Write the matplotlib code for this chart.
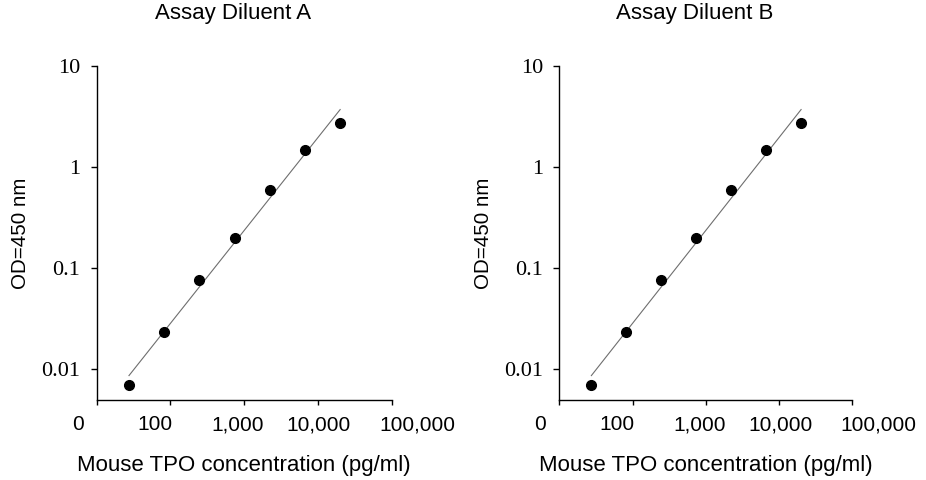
import numpy as np
import matplotlib
matplotlib.use("Agg")
import matplotlib.pyplot as plt
from matplotlib import transforms

# === Data ===
concentration = [27.4, 82.3, 247, 741, 2222, 6667, 20000]   # pg/ml
od_diluent_a = [0.0069, 0.0229, 0.0766, 0.197, 0.588, 1.47, 2.75]
od_diluent_b = [0.0069, 0.0229, 0.0766, 0.197, 0.588, 1.47, 2.75]
titles = ["Assay Diluent A", "Assay Diluent B"]

x_ticks = [10, 100, 1000, 10000, 100000]
x_tick_labels = ["0", "100", "1,000", "10,000", "100,000"]
x_label_shift_px = [-19, -16, -6.5, 1, 26]   # labels sit a bit off their ticks
y_ticks = [0.01, 0.1, 1, 10]
y_tick_labels = ["0.01", "0.1", "1", "10"]

SANS = ["Liberation Sans", "DejaVu Sans"]
SERIF = ["Liberation Serif", "DejaVu Serif"]

plt.rcParams["font.family"] = SANS

fig = plt.figure(figsize=(9.26, 4.8), dpi=100)
W, H = 926, 480

panel_lefts = [96.7, 559.3]
panel_widths = [295, 293]
top_px, bottom_px = 66, 400


def fit_line(x, y):
    lx, ly = np.log10(x), np.log10(y)
    slope, icpt = np.polyfit(lx, ly, 1)
    xs = np.array([min(x), max(x)])
    return xs, 10 ** (icpt + slope * np.log10(xs))


for i, od in enumerate([od_diluent_a, od_diluent_b]):
    left = panel_lefts[i] / W
    width = panel_widths[i] / W
    bottom = 1 - bottom_px / H
    height = (bottom_px - top_px) / H
    ax = fig.add_axes([left, bottom, width, height])

    ax.set_xscale("log")
    ax.set_yscale("log")
    ax.set_xlim(10, 100000)
    ax.set_ylim(0.0049, 10)

    fx, fy = fit_line(concentration, od)
    ax.plot(fx, fy, color="#6e6e6e", linewidth=0.8, zorder=2)
    ax.plot(concentration, od, "o", color="black", markersize=7, zorder=3)

    for side in ["top", "right"]:
        ax.spines[side].set_visible(False)
    for side in ["left", "bottom"]:
        ax.spines[side].set_linewidth(1.0)

    ax.minorticks_off()
    ax.set_yticks(y_ticks)
    ax.set_yticklabels(y_tick_labels, fontfamily=SERIF, fontsize=16)
    ax.tick_params(axis="y", direction="out", length=4.3, width=1.0, pad=7.5)

    ax.set_xticks(x_ticks)
    ax.set_xticklabels([])
    ax.tick_params(axis="x", direction="out", length=3.5, width=1.0)

    trans = transforms.blended_transform_factory(ax.transData, ax.transAxes)
    for xv, lab, dx in zip(x_ticks, x_tick_labels, x_label_shift_px):
        off = transforms.ScaledTranslation(dx / 100, -25 / 100, fig.dpi_scale_trans)
        ax.text(xv, 0, lab, transform=trans + off, ha="center", va="center",
                fontsize=15, fontfamily=SANS)

    ax.set_ylabel("OD=450 nm", fontsize=14.8, labelpad=8)
    ax.text(0.5, -65 / (bottom_px - top_px), "Mouse TPO concentration (pg/ml)",
            transform=ax.transAxes, ha="center", va="center", fontsize=16)

    title_x = (panel_lefts[i] + panel_widths[i] / 2 - 11) / W
    fig.text(title_x, 1 - 14 / H, titles[i], ha="center", va="center", fontsize=16)

fig.savefig("out.png", dpi=100)
